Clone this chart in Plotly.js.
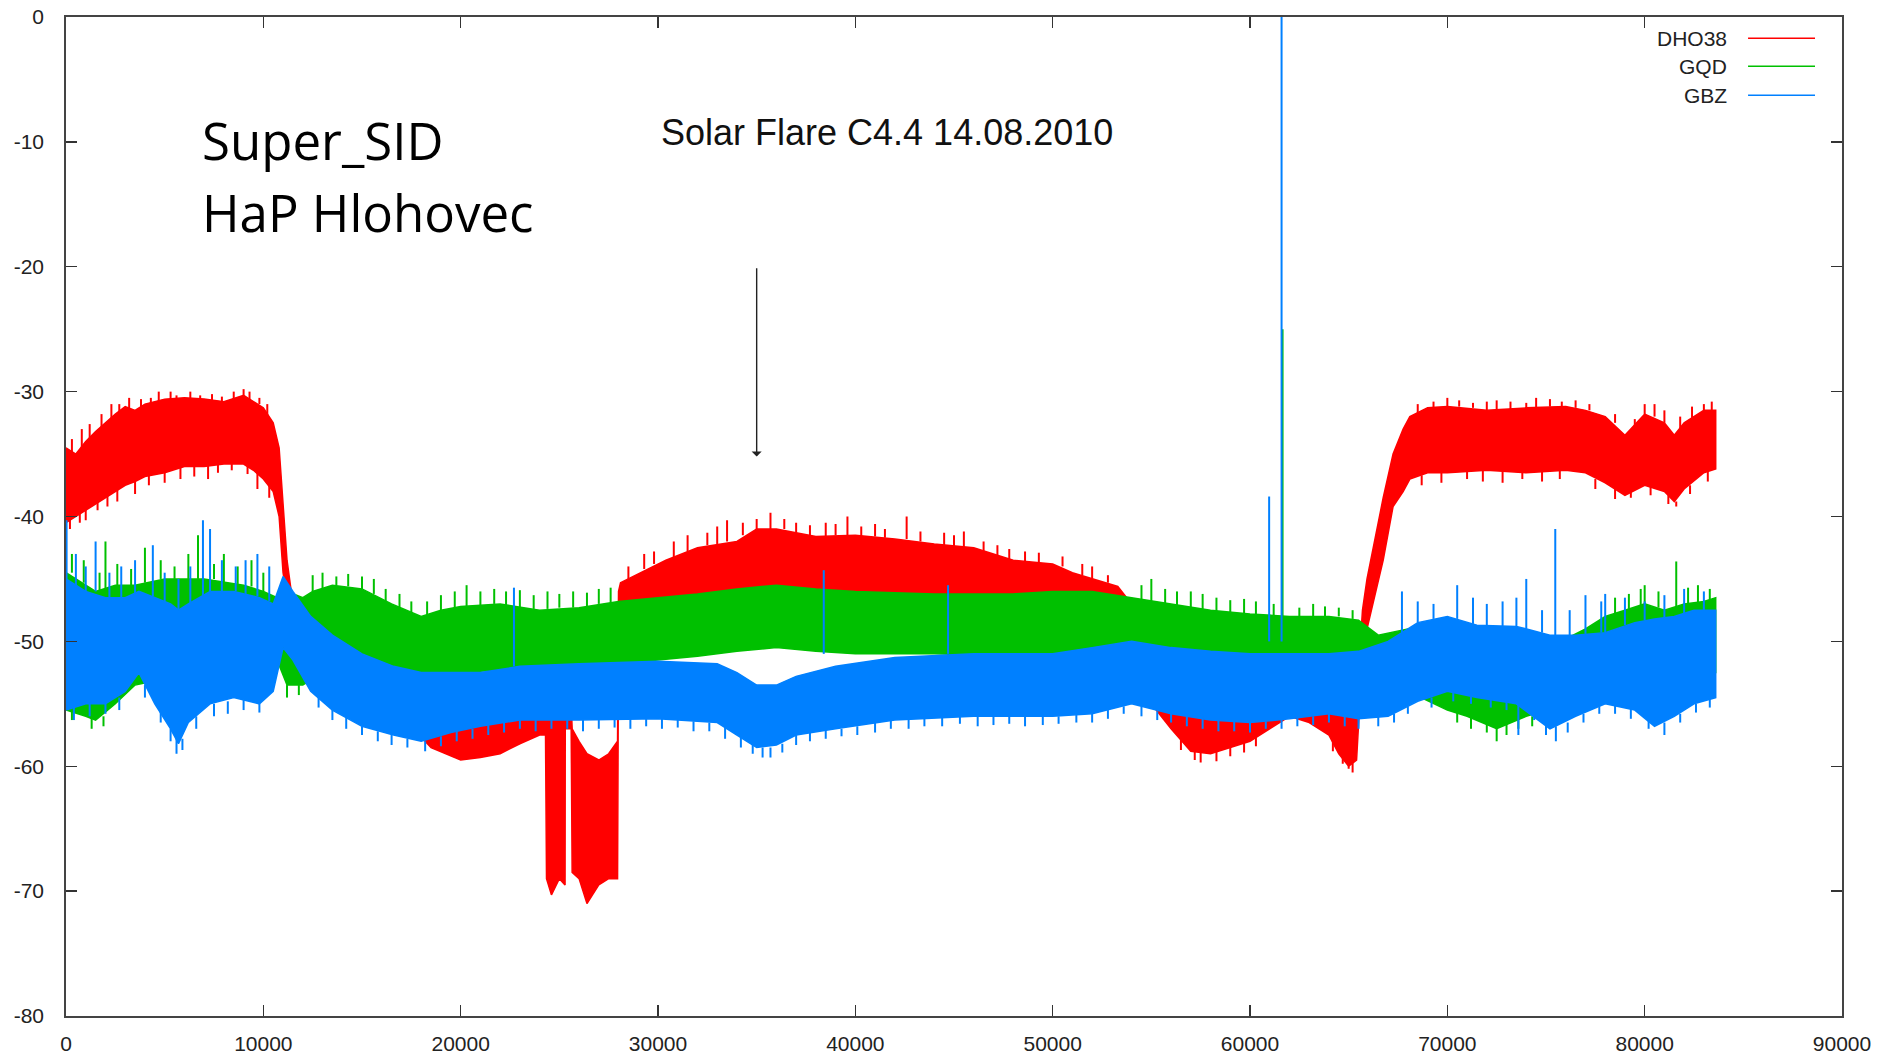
<!DOCTYPE html>
<html>
<head>
<meta charset="utf-8">
<script src="https://cdn.plot.ly/plotly-3.0.1.min.js"></script>
<style>
html,body{margin:0;padding:0;background:#fff;}
#chart{width:1878px;height:1057px;}
</style>
</head>
<body>
<div id="chart"></div>
<script>
// ---------------- DATA ----------------
const seriesNames = ["DHO38", "GQD", "GBZ"];
const xTicks = [0, 10000, 20000, 30000, 40000, 50000, 60000, 70000, 80000, 90000];
const yTicks = [0, -10, -20, -30, -40, -50, -60, -70, -80];

// DHO38 (red): upper / lower edge of the noisy band
const dhoX  = [0,500,1000,1500,2000,2500,3000,3500,4000,5000,6000,7000,8000,9000,9500,10000,10500,10800,11000,11200,11500,12000,13000,15000,17000,18500,20000,21000,22000,23000,24000,24300,24350,24600,25000,25290,25300,25600,25650,26000,26400,27000,27500,27950,28000,28100,30400,32000,34000,35000,36000,38000,40000,42000,44000,46000,48000,50000,51000,53300,54000,55000,56000,57000,58000,59000,60000,61000,62000,63000,64000,64500,65000,65400,65700,65930,66300,66750,67250,67760,68100,69000,70000,72000,74000,76000,77000,78000,79000,80000,81000,81500,82000,83000,83600];
const dhoHi = [-34.5,-35,-34,-33.2,-32.5,-31.8,-31.2,-31.5,-31,-30.6,-30.5,-30.6,-30.8,-30.3,-30.8,-31.3,-32.5,-34.5,-39,-43.5,-47,-48,-49,-50,-51.5,-53.5,-55,-55,-54.5,-54,-53.5,-54,-56,-56,-56,-56,-55,-55,-57,-58,-59,-59.5,-59,-58,-46,-45.3,-43.5,-42.5,-42,-41,-41,-41.6,-41.5,-41.8,-42.2,-42.5,-43.5,-43.8,-44.5,-45.6,-47,-49,-51,-53,-54,-54,-53.5,-53,-52,-52,-53,-54,-55,-55,-47.5,-45,-42,-38.5,-35,-33,-32,-31.3,-31.2,-31.5,-31.3,-31.2,-31.5,-32,-33.5,-31.8,-32.5,-33.5,-32.5,-31.5,-31.5];
const dhoLo = [-40.5,-40,-39.5,-39,-38.5,-38,-37.5,-37.2,-36.8,-36.5,-36,-36,-35.8,-35.8,-36.3,-37,-38,-40,-44.5,-46.5,-51.5,-53,-53.5,-54.5,-56,-58.5,-59.5,-59.3,-59,-58.2,-57.5,-57.5,-69,-70.3,-69,-69.5,-57,-57,-68.5,-69,-71,-69.5,-69,-69,-50,-49.5,-49,-48.5,-48,-47.5,-47.5,-47.5,-47.5,-47.5,-47.8,-48,-48.5,-49,-49.5,-50,-52,-55,-57,-58.8,-59,-58.5,-58,-57,-56,-56.5,-57.5,-59,-60,-59.5,-51,-49,-46.5,-43.5,-39.2,-38,-37,-36.5,-36.5,-36.3,-36.5,-36.3,-36.5,-37.3,-38.3,-37.5,-38,-38.8,-37.8,-36.5,-36.2];

// GQD (green)
const gqdX  = [0,1000,1500,2500,3500,5000,7000,9000,10000,10700,11200,12000,12500,13500,15000,16500,18000,19000,20000,22000,24000,26000,28000,30000,32000,34000,36000,38000,40000,44000,48000,50000,52000,54000,56000,58000,60000,62000,64000,65500,66500,68000,70000,71000,72500,74000,75000,76000,77000,78000,79000,80000,81000,82000,83000,83600];
const gqdHi = [-44.5,-45.5,-46,-45.5,-45.5,-45,-45,-45.5,-46,-46.5,-46,-46.5,-46,-45.5,-45.8,-47,-48,-47.5,-47.2,-47,-47.5,-47.3,-46.8,-46.5,-46.2,-45.8,-45.5,-45.8,-46,-46.2,-46.2,-46,-46,-46.5,-47,-47.5,-47.8,-48,-48,-48.3,-49.5,-49,-49.5,-49.8,-50,-50,-50.3,-49.8,-49,-48,-47.5,-47,-47.5,-47,-46.8,-46.5];
const gqdLo = [-55.5,-56,-56.3,-55,-53.5,-53,-53,-53,-52.5,-51.5,-53.5,-53.5,-53,-52,-52.5,-53,-53,-52.8,-52.5,-52.3,-52.3,-52,-51.8,-51.5,-51.2,-50.8,-50.5,-50.8,-51,-51,-51.2,-51.5,-51.5,-51.8,-52,-52,-52.3,-52.5,-52.5,-52.5,-53.5,-54,-55.5,-56,-57,-56,-55.5,-54.5,-54,-54,-53.5,-53,-53.5,-52.8,-52.5,-52.5];

// GBZ (blue)
const gbzX  = [0,1000,2000,3000,3700,4500,5300,5700,6200,7300,8500,9800,10500,11000,11500,12400,13500,15000,16600,18000,19500,21000,23000,26000,30000,33000,34000,35000,36000,37000,39000,42000,46000,50000,52000,54000,56000,58000,60000,62000,64000,65500,67000,68500,70000,71500,73500,75200,76500,78000,79500,80500,81500,82500,83600];
const gbzHi = [-45,-46,-46.5,-46.5,-46,-46.5,-47,-47.5,-47,-46,-46,-46.5,-47,-44.8,-46,-48,-49.5,-51,-52,-52.5,-52.5,-52.5,-52,-51.8,-51.6,-51.8,-52.5,-53.5,-53.5,-52.8,-52,-51.3,-51,-51,-50.5,-50,-50.5,-50.8,-51,-51,-51,-50.8,-50,-48.5,-48,-48.7,-48.8,-49.5,-49.5,-49.3,-48.5,-48.2,-48,-47.5,-47.5];
const gbzLo = [-55.5,-55,-55,-54,-52.5,-55,-57,-58.2,-56.5,-55,-54.5,-55,-54,-50.5,-51.5,-54,-55.5,-56.8,-57.5,-58,-57.3,-56.8,-56.3,-56.3,-56.2,-56.5,-57.5,-58.5,-58.3,-57.5,-57,-56.3,-56,-56,-55.8,-55,-55.8,-56.3,-56.5,-56.2,-55.8,-56.2,-56,-54.8,-54,-54.5,-55,-57,-56,-55,-55.5,-56.8,-56,-55,-54.5];

// Single noise spikes sticking out of each band: [x, start value, end value]
const dhoSpikes = [
  [300,-35,-33.8],[800,-34.5,-33],[1200,-34,-32.6],[1800,-33,-31.8],[2300,-32.5,-31],[2700,-32,-31],[3200,-31.5,-30.5],
  [3800,-31.3,-30.6],[4300,-31,-30.5],[4700,-31,-30],[5300,-30.8,-30],[5600,-30.8,-30.3],[6300,-30.7,-30],[6800,-30.8,-30.3],
  [7400,-30.8,-30.2],[7900,-31,-30.4],[8500,-30.8,-30],[9000,-30.5,-29.8],[9300,-30.6,-30],[9800,-31,-30.5],[10200,-32,-31],
  [200,-40,-41],[700,-39.5,-40.5],[1000,-39,-40.3],[1600,-38.5,-39.5],[2100,-38,-39.2],[2600,-37.5,-38.8],[3500,-36.8,-38.2],
  [4200,-36.5,-37.5],[5000,-36,-37.3],[5800,-35.8,-37],[6500,-35.7,-36.8],[7200,-35.7,-37],[7700,-35.5,-36.5],[8400,-35.5,-36.3],
  [9200,-35.5,-36.6],[9700,-36,-37.8],[10300,-37.5,-38.5],
  [28500,-45,-44],[29300,-44.2,-43],[29800,-43.8,-42.8],[30800,-43.3,-42],[31500,-42.8,-41.5],[32500,-42.3,-41.3],[33000,-42.2,-40.8],
  [33500,-42,-40.3],[34300,-41.5,-40.5],[35000,-41,-40.2],[35700,-41,-39.7],[36400,-41,-40.2],[37000,-41.3,-40.5],[37700,-41.5,-40.7],
  [38500,-41.6,-40.5],[39000,-41.5,-40.6],[39600,-41.5,-40],[40300,-41.6,-40.8],[41000,-41.6,-40.6],[41500,-41.7,-41],[42600,-41.8,-40],
  [43300,-42,-41.2],[44500,-42.3,-41.3],[45000,-42.4,-41.5],[45500,-42.5,-41.2],[46500,-42.8,-42],[47200,-43.2,-42.3],[47800,-43.5,-42.6],
  [48600,-43.6,-42.8],[49300,-43.7,-42.9],[50500,-44,-43.2],[51500,-44.7,-43.8],[52000,-45,-44],[52800,-45.3,-44.7],
  [56500,-57.5,-58.7],[57200,-58.5,-59.5],[57500,-58.5,-59.7],[58300,-58.8,-59.6],[59000,-58.3,-59.2],[59700,-58,-58.9],[60300,-57.5,-58.4],
  [64200,-57.8,-58.8],[64700,-59,-59.8],[65000,-59.5,-60.2],[65200,-59.5,-60.5],
  [68500,-31.8,-31],[69300,-31.3,-30.8],[70000,-31.2,-30.5],[70600,-31.2,-30.7],[71300,-31.3,-30.9],[72000,-31.5,-30.8],[72500,-31.4,-30.7],
  [73200,-31.4,-30.8],[74000,-31.3,-30.9],[74500,-31.3,-30.5],[75200,-31.2,-30.6],[75800,-31.2,-30.8],[76500,-31.3,-30.7],[77200,-31.5,-31],
  [78500,-32.5,-31.8],[79500,-33,-32.2],[80000,-31.8,-31],[80500,-32,-31],[81000,-32.5,-31.5],[81800,-33,-32],[82400,-32.3,-31.2],
  [83000,-31.5,-31],[83400,-31.5,-30.8],
  [68700,-36.7,-37.5],[69700,-36.5,-37.3],[71000,-36.4,-37],[71800,-36.3,-37.2],[72800,-36.4,-37.3],[73800,-36.5,-37],[74800,-36.4,-37.2],
  [75700,-36.3,-37],[77500,-37,-37.8],[78500,-37.8,-38.6],[79300,-38,-38.5],[80300,-37.6,-38.3],[81200,-38.3,-39],[81600,-38.8,-39.2],
  [82300,-37.5,-38.2],[83200,-36.4,-37.2]
];
const gqdSpikes = [
  [300,-44.5,-43],[900,-45.3,-43.5],[1700,-46,-44.5],[2000,-45.8,-42],[2600,-45.5,-43.8],[3300,-45.5,-44.2],[4000,-45.3,-42.5],
  [4800,-45,-43.5],[5500,-45,-44],[6200,-45,-43],[6690,-45,-41.5],[7500,-45,-43.8],[8000,-45.3,-43],[8700,-45.4,-44],[9400,-45.6,-43.5],
  [10000,-46,-44.5],
  [12500,-46,-44.7],[13000,-45.8,-44.5],[13700,-45.5,-44.8],[14300,-45.6,-44.6],[15000,-45.8,-44.8],[15600,-46.2,-45],[16200,-46.8,-45.8],
  [16900,-47.3,-46.2],[17500,-47.8,-46.8],[18300,-47.9,-46.8],[19000,-47.5,-46.3],[19700,-47.3,-46],[20300,-47.2,-45.5],[21000,-47.1,-46],
  [21700,-47,-45.8],[22300,-47.1,-46],[23000,-47.3,-45.9],[23700,-47.4,-46.3],[24400,-47.4,-46],[25000,-47.3,-46.2],[25700,-47.3,-46],
  [26400,-47.2,-46.1],[27000,-47,-45.8],[27600,-46.9,-45.7],
  [54500,-46.7,-45.5],[55000,-47,-45],[55700,-47,-45.8],[56300,-47.1,-46],[57000,-47.3,-46],[57600,-47.5,-46.2],[58300,-47.6,-46.5],
  [59000,-47.7,-46.7],[59700,-47.8,-46.6],[60300,-47.9,-46.8],[61200,-48,-47],[62500,-48,-47.3],[63200,-48,-47],[63800,-48,-47.2],
  [64500,-48,-47.3],[65200,-48.2,-47.5],[61650,-48,-25],
  [78500,-47.8,-46.5],[79200,-47.4,-46.2],[79800,-47.1,-45.8],[80000,-47,-45.5],[80700,-47.3,-46],[81600,-47.3,-43.6],[82200,-47,-45.7],
  [82700,-46.9,-45.5],[83300,-46.7,-45.8],
  [300,-55.5,-56.3],[1300,-56,-57],[1900,-56,-56.8],[11200,-53.5,-54.5],[11800,-53.5,-54.3],
  [70500,-55.7,-56.5],[71200,-56,-57],[72000,-56.5,-57.3],[72500,-57,-58],[73000,-56.6,-57.5],[73600,-56.2,-57],[74300,-56,-56.8]
];
const gbzSpikes = [
  [30,-45,-40.3],[500,-45.5,-43],[1000,-46,-44],[1500,-46,-42],[2200,-46.5,-44.5],[2800,-46.5,-44],[3500,-46.2,-43.5],[4400,-46.4,-42.3],
  [5000,-46.8,-44.5],[5700,-47.5,-45],[6300,-47,-44],[6940,-46.5,-40.3],[7300,-46,-41],[7900,-46,-43.5],[8600,-46,-44],[9100,-46.2,-43.5],
  [9700,-46.4,-43],[10300,-46.8,-44],
  [400,-55.3,-56.3],[1200,-55,-56],[2000,-55,-55.8],[2700,-54.5,-55.5],[4000,-53.5,-54.5],[4800,-55.5,-56.5],[5300,-57,-58],[5600,-57.8,-59],
  [5900,-57.8,-58.7],[6600,-56,-57],[7500,-55,-56],[8200,-54.8,-55.8],[9000,-54.7,-55.5],[9800,-55,-55.7],
  [12800,-54.5,-55.3],[13500,-55.5,-56.3],[14200,-56,-57],[15000,-56.8,-57.5],[15800,-57.2,-58],[16500,-57.5,-58.3],[17300,-57.8,-58.5],
  [18200,-58,-58.8],[19000,-57.6,-58.4],[19800,-57.2,-58],[20600,-57,-57.8],[21400,-56.7,-57.5],[22200,-56.5,-57.3],[23000,-56.3,-57],
  [23800,-56.3,-57.2],[24600,-56.3,-57],[25400,-56.3,-57],[26200,-56.3,-57.2],[27000,-56.3,-57],[27800,-56.2,-56.9],[28600,-56.2,-57],
  [29400,-56.2,-56.8],[30200,-56.2,-57],[31000,-56.3,-56.9],[31800,-56.4,-57.2],[32600,-56.5,-57.2],[33400,-56.8,-57.8],[34200,-57.6,-58.5],
  [34800,-58.2,-59],[35300,-58.5,-59.3],[35700,-58.5,-59.3],[36300,-58.2,-58.9],[37000,-57.5,-58.3],[37700,-57.2,-58],[38500,-57,-57.8],
  [39300,-57,-57.6],[40100,-56.8,-57.5],[41000,-56.5,-57.3],[41800,-56.3,-57],[42700,-56.2,-57],[43500,-56.1,-56.8],[44400,-56,-56.8],
  [45300,-56,-56.6],[46200,-56,-56.8],[47000,-56,-56.7],[47800,-56,-56.6],[48600,-56,-56.8],[49500,-56,-56.7],[50300,-56,-56.6],
  [51200,-55.9,-56.5],[52000,-55.8,-56.5],[52800,-55.5,-56.2],[53600,-55.2,-55.8],[54500,-55.2,-56],[55300,-55.6,-56.3],[56000,-55.8,-56.5],
  [56800,-56,-56.8],[57600,-56.2,-57],[58400,-56.3,-57.2],[59200,-56.4,-57.2],[60000,-56.5,-57.3],[60800,-56.4,-57],[61600,-56.2,-57],
  [62400,-56.1,-56.8],[63200,-56,-56.7],[64000,-55.8,-56.5],[64800,-56,-56.8],[65500,-56.2,-57],
  [66500,-56,-56.8],[67300,-55.8,-56.5],[68000,-55.2,-55.8],[69200,-54.5,-55.3],[70300,-54,-54.8],[71200,-54.3,-55],[72200,-54.6,-55.3],
  [73000,-54.8,-55.5],[73600,-55,-57.5],[74400,-55.5,-56.3],[75000,-56.5,-57.5],[75500,-56.8,-58],[76100,-56.5,-57.3],[76900,-55.8,-56.5],
  [77700,-55.2,-55.8],[78500,-55.1,-55.8],[79300,-55.4,-56.2],[80200,-56.3,-57],[81000,-56.5,-57.5],[81800,-55.8,-56.5],[82600,-55,-55.7],
  [83300,-54.6,-55.3],
  [22700,-52,-45.7],[38400,-51,-44.3],[44700,-51,-45.5],[60970,-50,-38.4],[61600,-50,0],
  [67700,-50,-46],[68500,-48.5,-46.8],[69300,-48.2,-47],[70500,-48.2,-45.5],[71300,-48.6,-46.5],[72000,-48.7,-47],[72800,-48.8,-46.8],
  [73500,-48.8,-46.5],[74000,-49,-45],[74800,-49.3,-47.5],[75470,-49.5,-41],[76200,-49.5,-47.5],[77000,-49.4,-46.3],[77800,-49.3,-46.8],
  [78000,-49.3,-46.2],[79000,-48.7,-46.5],[80000,-48.3,-46.8],[81000,-48.1,-46.3],[82000,-47.8,-45.8],[83000,-47.5,-46]
];

const colors = ["#ff0000", "#00c000", "#0080ff"];

// ---------------- BUILD TRACES ----------------
function band(x, hi, lo, color, name) {
  const xr = x.slice().reverse();
  const lr = lo.slice().reverse();
  return {
    type: "scatter", mode: "lines", name: name,
    x: x.concat(xr), y: hi.concat(lr),
    fill: "toself", fillcolor: color,
    line: {color: color, width: 1.5},
    hoverinfo: "skip", showlegend: false
  };
}
function spikes(list, color, name) {
  const x = [], y = [];
  list.forEach(function (s) {
    x.push(s[0], s[0], null);
    y.push(s[1], s[2], null);
  });
  return {
    type: "scatter", mode: "lines", name: name,
    x: x, y: y, connectgaps: false,
    line: {color: color, width: 2},
    hoverinfo: "skip", showlegend: false
  };
}

const traces = [
  band(dhoX, dhoHi, dhoLo, colors[0], seriesNames[0]),
  spikes(dhoSpikes, colors[0], seriesNames[0]),
  band(gqdX, gqdHi, gqdLo, colors[1], seriesNames[1]),
  spikes(gqdSpikes, colors[1], seriesNames[1]),
  band(gbzX, gbzHi, gbzLo, colors[2], seriesNames[2]),
  spikes(gbzSpikes, colors[2], seriesNames[2])
];

// manual legend (text left, line sample right, as in the original)
const legendRowsY = [0.9787, 0.9507, 0.9217];
const annotations = [];
const shapes = [];
for (let i = 0; i < seriesNames.length; i++) {
  annotations.push({
    xref: "paper", yref: "paper", x: 0.9364, y: legendRowsY[i],
    xanchor: "right", yanchor: "middle", showarrow: false,
    text: seriesNames[i],
    font: {family: "Liberation Sans, Arial, sans-serif", size: 21, color: "#222"}
  });
  shapes.push({
    type: "line", xref: "paper", yref: "paper",
    x0: 0.9471, x1: 0.9848, y0: legendRowsY[i], y1: legendRowsY[i],
    line: {color: colors[i], width: 1.6}
  });
}
annotations.push({
  xref: "x", yref: "y", x: 6770, y: -9.85, xanchor: "left", yanchor: "middle",
  showarrow: false, text: "Super_SID",
  font: {family: "Open Sans, sans-serif", size: 51, color: "#000"}
});
annotations.push({
  xref: "x", yref: "y", x: 6770, y: -15.6, xanchor: "left", yanchor: "middle",
  showarrow: false, text: "HaP Hlohovec",
  font: {family: "Open Sans, sans-serif", size: 51, color: "#000"}
});
annotations.push({
  xref: "x", yref: "y", x: 41580, y: -9.27, xanchor: "center", yanchor: "middle",
  showarrow: false, text: "Solar Flare C4.4 14.08.2010",
  font: {family: "Liberation Sans, Arial, sans-serif", size: 36, color: "#111"}
});
annotations.push({
  xref: "x", yref: "y", x: 35000, y: -35.2, axref: "x", ayref: "y", ax: 35000, ay: -20,
  text: "", showarrow: true, arrowhead: 1, arrowsize: 1.2, arrowwidth: 1.4, arrowcolor: "#222"
});

const axisFont = {family: "Liberation Sans, Arial, sans-serif", size: 21, color: "#222"};
const layout = {
  width: 1878, height: 1057,
  margin: {l: 66, r: 36, t: 17, b: 41, pad: 0},
  paper_bgcolor: "#fff", plot_bgcolor: "#fff",
  showlegend: false,
  xaxis: {
    range: [0, 90000], tickmode: "array", tickvals: xTicks, ticktext: xTicks.map(String),
    ticks: "inside", ticklen: 11, tickwidth: 1.3, tickcolor: "#333",
    showline: true, linecolor: "#444", linewidth: 1.8, mirror: "ticks",
    showgrid: false, zeroline: false, tickfont: axisFont, ticklabelstandoff: 8
  },
  yaxis: {
    range: [-80, 0], tickmode: "array", tickvals: yTicks, ticktext: yTicks.map(String),
    ticks: "inside", ticklen: 11, tickwidth: 1.3, tickcolor: "#333",
    showline: true, linecolor: "#444", linewidth: 1.8, mirror: "ticks",
    showgrid: false, zeroline: false, tickfont: axisFont, ticklabelstandoff: 16
  },
  annotations: annotations,
  shapes: shapes
};

Plotly.newPlot("chart", traces, layout, {displayModeBar: false, staticPlot: true});
</script>
</body>
</html>
